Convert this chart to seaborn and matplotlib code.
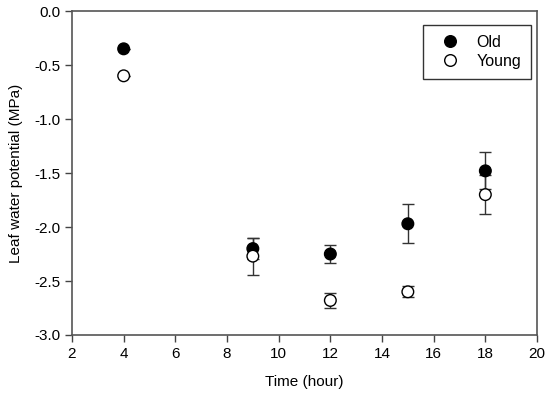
import matplotlib
matplotlib.use("Agg")
import matplotlib.pyplot as plt
import seaborn as sns
import pandas as pd

hours = [4, 9, 12, 15, 18]
old_mean = [-0.35, -2.20, -2.25, -1.97, -1.48]
old_err = [0.0, 0.10, 0.085, 0.18, 0.17]
young_mean = [-0.60, -2.27, -2.68, -2.60, -1.70]
young_err = [0.0, 0.17, 0.07, 0.05, 0.18]
groups = ["Old", "Young"]

df = pd.DataFrame({
    "Time": hours * 2,
    "LWP": old_mean + young_mean,
    "err": old_err + young_err,
    "Group": ["Old"] * len(hours) + ["Young"] * len(hours),
})

sns.set_style("ticks")
plt.rcParams['font.family'] = ['Liberation Sans', 'DejaVu Sans']
plt.rcParams['text.color'] = 'black'
plt.rcParams['axes.labelcolor'] = 'black'
plt.rcParams['xtick.labelcolor'] = 'black'
plt.rcParams['ytick.labelcolor'] = 'black'

fig = plt.figure(figsize=(5.5, 3.98), dpi=100)
ax = fig.add_axes([0.1309, 0.1583, 0.8455, 0.814])

for g, z in [("Young", 3), ("Old", 4)]:
    sub = df[df.Group == g]
    ax.errorbar(sub.Time, sub.LWP, yerr=sub.err, fmt="none", ecolor="#333333",
                elinewidth=1, capsize=4, capthick=1, zorder=z - 1)

sns.scatterplot(data=df, x="Time", y="LWP", hue="Group", hue_order=groups,
                palette={"Old": "black", "Young": "white"},
                edgecolor="black", linewidth=1, s=70, ax=ax, zorder=5)

ax.set_xlim(2, 20)
ax.set_ylim(-3.0, 0.0)
ax.set_xticks(range(2, 21, 2))
ax.set_yticks([-3.0, -2.5, -2.0, -1.5, -1.0, -0.5, 0.0])
ax.set_yticklabels(["-3.0", "-2.5", "-2.0", "-1.5", "-1.0", "-0.5", "0.0"])
ax.tick_params(direction="out", length=5, width=1, labelsize=11,
               color="#444444", labelcolor="black")
for s in ax.spines.values():
    s.set_visible(True)
    s.set_color("#555555")
    s.set_linewidth(1.2)
ax.set_xlabel("Time (hour)", fontsize=11, labelpad=10, color="black")
ax.set_ylabel("Leaf water potential (MPa)", fontsize=11, labelpad=8, color="black")

handles, labels = ax.get_legend_handles_labels()
leg = ax.legend(handles=handles, labels=labels, loc="upper right",
                bbox_to_anchor=(0.987, 0.957), frameon=True, fancybox=False,
                edgecolor="black", fontsize=11.5, handletextpad=0.52,
                borderpad=0.62, labelspacing=0.25, handlelength=2.2,
                borderaxespad=0, labelcolor="black")
leg.get_frame().set_linewidth(1)

fig.savefig("out.png", dpi=100)
